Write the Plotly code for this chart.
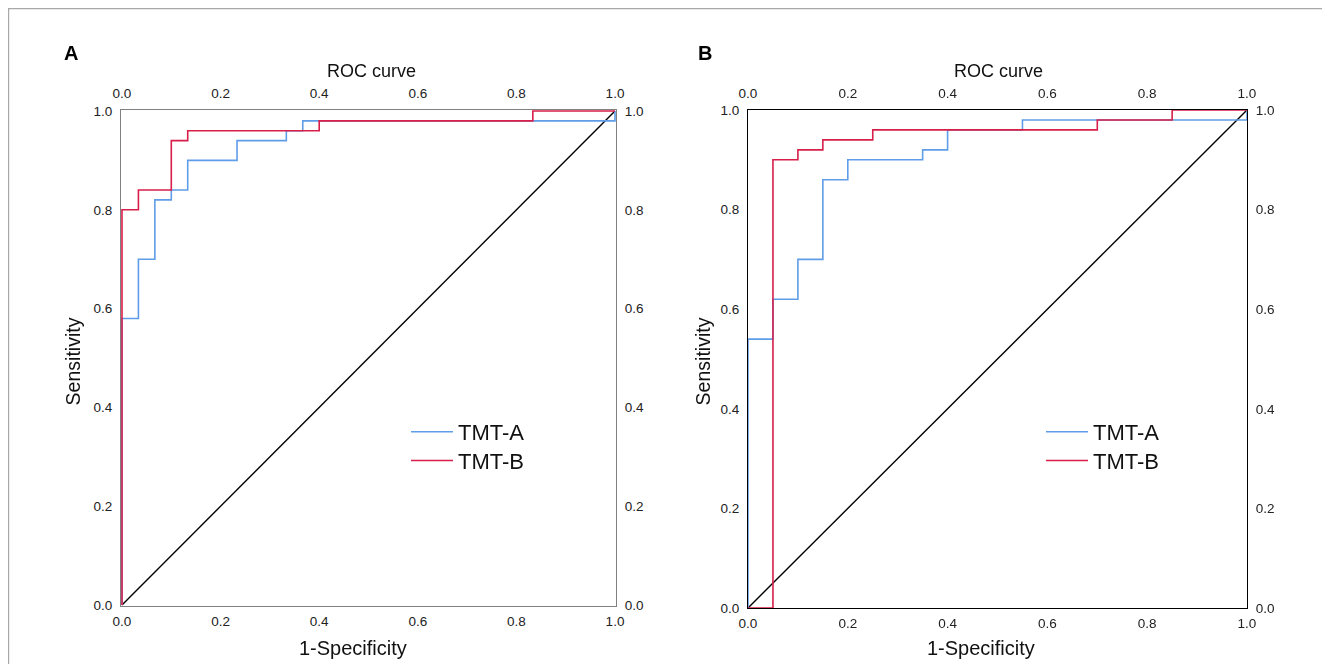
import plotly.graph_objects as go

# ---- data ----
tick_vals = [0, 0.2, 0.4, 0.6, 0.8, 1.0]
tick_text = ["0.0", "0.2", "0.4", "0.6", "0.8", "1.0"]

# Panel A
a_tmta_fpr = [0, 0, 1/30, 2/30, 3/30, 4/30, 7/30, 10/30, 11/30, 1.0]
a_tmta_sen = [0, 0.58, 0.70, 0.82, 0.84, 0.90, 0.94, 0.96, 0.98, 1.0]
a_tmtb_fpr = [0, 0, 1/30, 3/30, 4/30, 12/30, 25/30, 1.0]
a_tmtb_sen = [0, 0.80, 0.84, 0.94, 0.96, 0.98, 1.0, 1.0]

# Panel B
b_tmta_fpr = [0, 0, 0.05, 0.10, 0.15, 0.20, 0.35, 0.40, 0.55, 1.0]
b_tmta_sen = [0, 0.54, 0.62, 0.70, 0.86, 0.90, 0.92, 0.96, 0.98, 1.0]
b_tmtb_fpr = [0, 0.05, 0.10, 0.15, 0.25, 0.70, 0.85, 1.0]
b_tmtb_sen = [0, 0.90, 0.92, 0.94, 0.96, 0.98, 1.0, 1.0]

ref_line = [0, 1]
series_names = ["TMT-A", "TMT-B"]

BLUE = "#5f9de9"
RED = "#d81f4a"
FONT = "Liberation Sans, Arial, sans-serif"
W, H = 1330, 664
OFF = 8  # page body margin


def px_x(p):
    return (p - OFF) / W


def px_y(p):
    return 1 - (p - OFF) / H


fig = go.Figure()

panels = [
    dict(key="", fpr=(a_tmta_fpr, a_tmtb_fpr), sen=(a_tmta_sen, a_tmtb_sen),
         xd=(121, 616), yd=(606, 110), frame="#808080", layer="below traces",
         rng=[-0.002, 1.002], legends=("legend", "legend3"),
         letter="A", letter_x=70.5, title_x=371.5, xlab_x=353, ylab_x=72.7, leg_x=406),
    dict(key="2", fpr=(b_tmta_fpr, b_tmtb_fpr), sen=(b_tmta_sen, b_tmtb_sen),
         xd=(748, 1247), yd=(608, 110), frame="#000000", layer="above traces",
         rng=[0, 1], legends=("legend2", "legend4"),
         letter="B", letter_x=705, title_x=998.5, xlab_x=981, ylab_x=702.7, leg_x=1041),
]
legend_tops = [411, 439.7]

annotations = []
for i, p in enumerate(panels):
    xa = "x" + p["key"]
    ya = "y" + p["key"]
    # diagonal reference
    fig.add_trace(go.Scatter(x=ref_line, y=ref_line, mode="lines",
                             line=dict(color="black", width=1.4),
                             xaxis=xa, yaxis=ya, showlegend=False, hoverinfo="skip"))
    for name, fx, sy, col, lg, top in zip(series_names, p["fpr"], p["sen"], [BLUE, RED],
                                         p["legends"], legend_tops):
        fig.add_trace(go.Scatter(x=fx, y=sy, mode="lines", name=name,
                                 line=dict(color=col, width=1.6, shape="hv"),
                                 xaxis=xa, yaxis=ya, legend=lg))
        fig.layout[lg] = dict(x=px_x(p["leg_x"]), y=px_y(top), xanchor="left", yanchor="top",
                              bgcolor="rgba(0,0,0,0)",
                              font=dict(family=FONT, size=22, color="#111111"),
                              itemwidth=42)
    # invisible trace for top/right axes
    topx = "x" + str(3 + i * 2)
    righty = "y" + str(3 + i * 2)
    fig.add_trace(go.Scatter(x=[0, 1], y=[0, 1], mode="markers", opacity=0,
                             xaxis=topx, yaxis=righty, showlegend=False, hoverinfo="skip"))

    xdom = [px_x(p["xd"][0]), px_x(p["xd"][1])]
    ydom = [px_y(p["yd"][0]), px_y(p["yd"][1])]
    common = dict(range=p["rng"], tickvals=tick_vals, ticktext=tick_text, automargin=False,
                  showgrid=False, zeroline=False, ticks="outside",
                  tickcolor="rgba(0,0,0,0)",
                  tickfont=dict(family=FONT, size=13.5, color="#222222"))
    n = p["key"]
    fig.layout["xaxis" + n] = dict(domain=xdom, anchor=ya, showline=True, mirror=True,
                                   linecolor=p["frame"], linewidth=1.2, ticklen=3,
                                   layer=p["layer"], **common)
    fig.layout["yaxis" + n] = dict(domain=ydom, anchor=xa, showline=True, mirror=True,
                                   linecolor=p["frame"], linewidth=1.2, ticklen=5,
                                   layer=p["layer"], **common)
    fig.layout["xaxis" + str(3 + i * 2)] = dict(overlaying=xa, side="top", anchor=ya,
                                                 showline=False, ticklen=6, **common)
    fig.layout["yaxis" + str(3 + i * 2)] = dict(overlaying=ya, side="right", anchor=xa,
                                                 showline=False, ticklen=5, **common)

    annotations += [
        dict(text="<b>" + p["letter"] + "</b>", x=px_x(p["letter_x"]), y=px_y(53),
             xref="paper", yref="paper", showarrow=False, xanchor="center", yanchor="middle",
             font=dict(family=FONT, size=20, color="black")),
        dict(text="ROC curve", x=px_x(p["title_x"]), y=px_y(71),
             xref="paper", yref="paper", showarrow=False, xanchor="center", yanchor="middle",
             font=dict(family=FONT, size=18, color="#111111")),
        dict(text="1-Specificity", x=px_x(p["xlab_x"]), y=px_y(648),
             xref="paper", yref="paper", showarrow=False, xanchor="center", yanchor="middle",
             font=dict(family=FONT, size=20, color="#111111")),
        dict(text="Sensitivity", x=px_x(p["ylab_x"]), y=px_y(361.7), textangle=-90,
             xref="paper", yref="paper", showarrow=False, xanchor="center", yanchor="middle",
             font=dict(family=FONT, size=19.5, color="#111111")),
    ]

fig.update_layout(
    width=W, height=H,
    margin=dict(l=0, r=0, t=0, b=0, autoexpand=False),
    paper_bgcolor="white", plot_bgcolor="white",
    annotations=annotations,
    shapes=[dict(type="rect", xref="paper", yref="paper",
                 x0=px_x(8.6), x1=px_x(1325.5), y0=-0.1, y1=px_y(8.6),
                 line=dict(color="#a8a8a8", width=1.2), fillcolor="rgba(0,0,0,0)")],
)

fig.write_html("out.html")
